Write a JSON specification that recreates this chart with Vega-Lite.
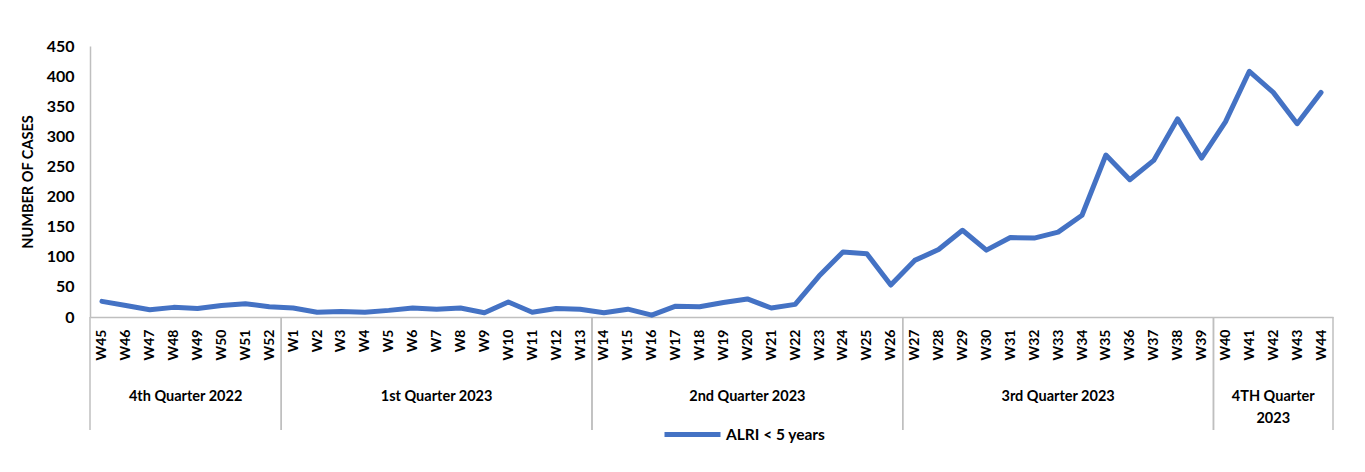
{
  "$schema": "https://vega.github.io/schema/vega-lite/v6.json",
  "width": 1243,
  "height": 271,
  "padding": {"left": 20, "top": 38, "right": 5, "bottom": 5},
  "background": "white",
  "config": {
    "font": "Lato",
    "view": {"stroke": null},
    "axis": {"grid": false, "ticks": false, "domainColor": "#BFBFBF", "domainWidth": 1.5, "labelColor": "#000000", "labelFontWeight": "bold", "titleColor": "#000000", "titleFontWeight": "bold"},
    "text": {"font": "Lato"}
  },
  "datasets": {
    "weekly": [
      {"week": "W45", "quarter": "4th Quarter 2022", "ALRI < 5 years": 26},
      {"week": "W46", "quarter": "4th Quarter 2022", "ALRI < 5 years": 19},
      {"week": "W47", "quarter": "4th Quarter 2022", "ALRI < 5 years": 12},
      {"week": "W48", "quarter": "4th Quarter 2022", "ALRI < 5 years": 16},
      {"week": "W49", "quarter": "4th Quarter 2022", "ALRI < 5 years": 14},
      {"week": "W50", "quarter": "4th Quarter 2022", "ALRI < 5 years": 19},
      {"week": "W51", "quarter": "4th Quarter 2022", "ALRI < 5 years": 22},
      {"week": "W52", "quarter": "4th Quarter 2022", "ALRI < 5 years": 17},
      {"week": "W1", "quarter": "1st Quarter 2023", "ALRI < 5 years": 15},
      {"week": "W2", "quarter": "1st Quarter 2023", "ALRI < 5 years": 8},
      {"week": "W3", "quarter": "1st Quarter 2023", "ALRI < 5 years": 9},
      {"week": "W4", "quarter": "1st Quarter 2023", "ALRI < 5 years": 8},
      {"week": "W5", "quarter": "1st Quarter 2023", "ALRI < 5 years": 11},
      {"week": "W6", "quarter": "1st Quarter 2023", "ALRI < 5 years": 15},
      {"week": "W7", "quarter": "1st Quarter 2023", "ALRI < 5 years": 13},
      {"week": "W8", "quarter": "1st Quarter 2023", "ALRI < 5 years": 15},
      {"week": "W9", "quarter": "1st Quarter 2023", "ALRI < 5 years": 7},
      {"week": "W10", "quarter": "1st Quarter 2023", "ALRI < 5 years": 25},
      {"week": "W11", "quarter": "1st Quarter 2023", "ALRI < 5 years": 8},
      {"week": "W12", "quarter": "1st Quarter 2023", "ALRI < 5 years": 14},
      {"week": "W13", "quarter": "1st Quarter 2023", "ALRI < 5 years": 13},
      {"week": "W14", "quarter": "2nd Quarter 2023", "ALRI < 5 years": 7},
      {"week": "W15", "quarter": "2nd Quarter 2023", "ALRI < 5 years": 13},
      {"week": "W16", "quarter": "2nd Quarter 2023", "ALRI < 5 years": 3},
      {"week": "W17", "quarter": "2nd Quarter 2023", "ALRI < 5 years": 18},
      {"week": "W18", "quarter": "2nd Quarter 2023", "ALRI < 5 years": 17},
      {"week": "W19", "quarter": "2nd Quarter 2023", "ALRI < 5 years": 24},
      {"week": "W20", "quarter": "2nd Quarter 2023", "ALRI < 5 years": 30},
      {"week": "W21", "quarter": "2nd Quarter 2023", "ALRI < 5 years": 15},
      {"week": "W22", "quarter": "2nd Quarter 2023", "ALRI < 5 years": 21},
      {"week": "W23", "quarter": "2nd Quarter 2023", "ALRI < 5 years": 68},
      {"week": "W24", "quarter": "2nd Quarter 2023", "ALRI < 5 years": 108},
      {"week": "W25", "quarter": "2nd Quarter 2023", "ALRI < 5 years": 105},
      {"week": "W26", "quarter": "2nd Quarter 2023", "ALRI < 5 years": 53},
      {"week": "W27", "quarter": "3rd Quarter 2023", "ALRI < 5 years": 94},
      {"week": "W28", "quarter": "3rd Quarter 2023", "ALRI < 5 years": 112},
      {"week": "W29", "quarter": "3rd Quarter 2023", "ALRI < 5 years": 144},
      {"week": "W30", "quarter": "3rd Quarter 2023", "ALRI < 5 years": 111},
      {"week": "W31", "quarter": "3rd Quarter 2023", "ALRI < 5 years": 132},
      {"week": "W32", "quarter": "3rd Quarter 2023", "ALRI < 5 years": 131},
      {"week": "W33", "quarter": "3rd Quarter 2023", "ALRI < 5 years": 141},
      {"week": "W34", "quarter": "3rd Quarter 2023", "ALRI < 5 years": 169},
      {"week": "W35", "quarter": "3rd Quarter 2023", "ALRI < 5 years": 269},
      {"week": "W36", "quarter": "3rd Quarter 2023", "ALRI < 5 years": 228},
      {"week": "W37", "quarter": "3rd Quarter 2023", "ALRI < 5 years": 260},
      {"week": "W38", "quarter": "3rd Quarter 2023", "ALRI < 5 years": 329},
      {"week": "W39", "quarter": "3rd Quarter 2023", "ALRI < 5 years": 264},
      {"week": "W40", "quarter": "4TH Quarter 2023", "ALRI < 5 years": 324},
      {"week": "W41", "quarter": "4TH Quarter 2023", "ALRI < 5 years": 408},
      {"week": "W42", "quarter": "4TH Quarter 2023", "ALRI < 5 years": 373},
      {"week": "W43", "quarter": "4TH Quarter 2023", "ALRI < 5 years": 321},
      {"week": "W44", "quarter": "4TH Quarter 2023", "ALRI < 5 years": 373}
    ],
    "quarters": [
      {"quarter": "4th Quarter 2022", "start": 0, "end": 8},
      {"quarter": "1st Quarter 2023", "start": 8, "end": 21},
      {"quarter": "2nd Quarter 2023", "start": 21, "end": 34},
      {"quarter": "3rd Quarter 2023", "start": 34, "end": 47},
      {"quarter": "4TH Quarter\n2023", "start": 47, "end": 52}
    ]
  },
  "layer": [
    {
      "data": {"name": "weekly"},
      "transform": [{"fold": ["ALRI < 5 years"], "as": ["series", "cases"]}],
      "mark": {"type": "line", "strokeWidth": 5, "strokeJoin": "round", "strokeCap": "round"},
      "encoding": {
        "x": {
          "field": "week", "type": "ordinal", "sort": null,
          "scale": {"type": "point", "padding": 0.5},
          "axis": {"title": null, "labelAngle": -90, "labelFontSize": 14, "labelPadding": 12, "labelOverlap": false}
        },
        "y": {
          "field": "cases", "type": "quantitative",
          "scale": {"domain": [0, 450], "nice": false},
          "axis": {"title": "NUMBER OF CASES", "titleFontSize": 14.5, "titlePadding": 11, "labelFontSize": 16, "labelPadding": 16, "values": [0, 50, 100, 150, 200, 250, 300, 350, 400, 450]}
        },
        "color": {
          "field": "series", "type": "nominal",
          "scale": {"range": ["#4472C4"]},
          "legend": {"title": null, "orient": "none", "legendX": 572, "legendY": 358, "direction": "horizontal", "symbolType": "stroke", "symbolSize": 3136, "symbolStrokeWidth": 5, "labelFontSize": 15.5, "labelFontWeight": "bold", "labelColor": "#000000", "labelOffset": 3, "padding": 0}
        }
      }
    },
    {
      "data": {"name": "quarters"},
      "mark": {"type": "rule", "color": "#BFBFBF", "strokeWidth": 1.5},
      "encoding": {
        "x": {"field": "start", "type": "quantitative", "scale": {"domain": [0, 52], "nice": false, "zero": false}, "axis": null},
        "y": {"value": {"expr": "height"}},
        "y2": {"value": {"expr": "height + 113"}}
      }
    },
    {
      "data": {"name": "quarters"},
      "mark": {"type": "rule", "color": "#BFBFBF", "strokeWidth": 1.5},
      "encoding": {
        "x": {"field": "end", "type": "quantitative", "scale": {"domain": [0, 52], "nice": false, "zero": false}, "axis": null},
        "y": {"value": {"expr": "height"}},
        "y2": {"value": {"expr": "height + 113"}}
      }
    },
    {
      "data": {"name": "quarters"},
      "transform": [{"calculate": "(datum.start + datum.end) / 2", "as": "mid"}],
      "mark": {"type": "text", "fontSize": 14.5, "fontWeight": "bold", "color": "#000000", "baseline": "top", "lineBreak": "\n", "lineHeight": 22},
      "encoding": {
        "x": {"field": "mid", "type": "quantitative", "scale": {"domain": [0, 52], "nice": false, "zero": false}, "axis": null},
        "y": {"value": {"expr": "height + 73"}},
        "text": {"field": "quarter"}
      }
    }
  ],
  "resolve": {"scale": {"x": "independent"}}
}
